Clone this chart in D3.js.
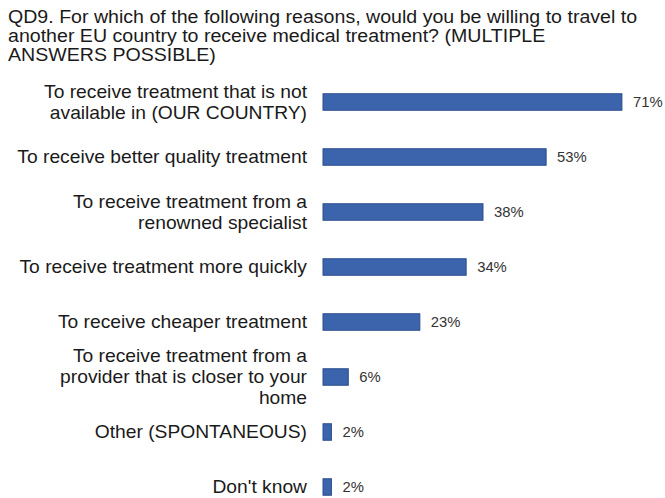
<!DOCTYPE html>
<html>
<head>
<meta charset="utf-8">
<script src="https://cdn.jsdelivr.net/npm/d3@7"></script>
<style>
  html, body { margin: 0; padding: 0; background: #fff; }
  svg { display: block; }
</style>
</head>
<body>
<svg id="chart" width="665" height="498"></svg>
<script>
// Survey answers, in the order they are listed
const categories = [
  ["To receive treatment that is not", "available in (OUR COUNTRY)"],
  ["To receive better quality treatment"],
  ["To receive treatment from a", "renowned specialist"],
  ["To receive treatment more quickly"],
  ["To receive cheaper treatment"],
  ["To receive treatment from a", "provider that is closer to your", "home"],
  ["Other (SPONTANEOUS)"],
  ["Don't know"]
];
const values = [71, 53, 38, 34, 23, 6, 2, 2];
const valueLabels = ["71%", "53%", "38%", "34%", "23%", "6%", "2%", "2%"];
const titleLines = [
  "QD9. For which of the following reasons, would you be willing to travel to",
  "another EU country to receive medical treatment? (MULTIPLE",
  "ANSWERS POSSIBLE)"
];

const svg = d3.select("#chart");
const font = "'Liberation Sans', Arial, sans-serif";
// text is set slightly wide
const widen = (ax, s) => `translate(${ax},0) scale(${s},1) translate(${-ax},0)`;

// Title
svg.append("g")
  .attr("transform", widen(8, 1.12))
  .selectAll("text")
  .data(titleLines)
  .join("text")
  .attr("x", 8)
  .attr("y", (d, i) => 23 + i * 19)
  .attr("font-family", font)
  .attr("font-size", 17.5)
  .attr("fill", "#1a1a1a")
  .text(d => d);

const ids = categories.map((c, i) => i);

const y = d3.scaleBand()
  .domain(ids)
  .range([74.5, 514.5])
  .paddingInner(0.7)
  .paddingOuter(0.35);

const x = d3.scaleLinear()
  .domain([0, 100])
  .range([323, 744]);

const rows = svg.append("g")
  .selectAll("g")
  .data(ids)
  .join("g");

// Bars
rows.append("rect")
  .attr("x", x(0))
  .attr("y", i => y(i))
  .attr("width", i => x(values[i]) - x(0))
  .attr("height", y.bandwidth())
  .attr("fill", "#3c64ad")
  .attr("stroke", "#2b4c8c")
  .attr("stroke-width", 1);

// Category labels, right aligned against the bars
const labelRight = 307;
const lineH = 21;
rows.append("text")
  .attr("text-anchor", "end")
  .attr("transform", widen(labelRight, 1.1))
  .attr("font-family", font)
  .attr("font-size", 17.5)
  .attr("fill", "#1a1a1a")
  .each(function(i) {
    const lines = categories[i];
    const cy = y(i) + y.bandwidth() / 2;
    const first = cy - (lines.length - 1) * lineH / 2;
    d3.select(this).selectAll("tspan")
      .data(lines)
      .join("tspan")
      .attr("x", labelRight)
      .attr("y", (d, k) => first + k * lineH)
      .attr("dy", "0.35em")
      .text(d => d);
  });

// Value labels
rows.append("text")
  .attr("x", i => x(values[i]) + 11)
  .attr("y", i => y(i) + y.bandwidth() / 2)
  .attr("dy", "0.35em")
  .attr("transform", i => widen(x(values[i]) + 11, 1.06))
  .attr("font-family", font)
  .attr("font-size", 14)
  .attr("fill", "#333")
  .text(i => valueLabels[i]);
</script>
</body>
</html>
